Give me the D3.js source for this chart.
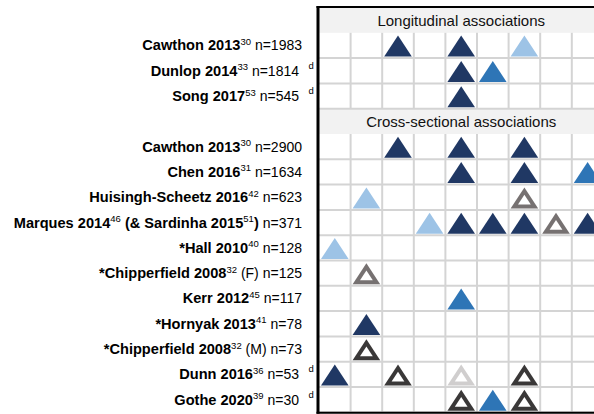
<!DOCTYPE html>
<html><head><meta charset="utf-8">
<script src="https://cdn.jsdelivr.net/npm/d3@7"></script>
<style>
body{margin:0;background:#fff;}
svg{display:block;font-family:"Liberation Sans",Arial,sans-serif;}
</style>
</head><body>
<svg id="chart" width="594" height="414"></svg>
<script>
// ---- data ----
const columns = ["c1","c2","c3","c4","c5","c6","c7","c8","c9"];
const sections = ["Longitudinal associations", "Cross-sectional associations"];

// label segments: b = bold, r = regular, s = superscript
const labelsLong = [
  [["Cawthon 2013","b"],["30","s"],[" n=1983","r"]],
  [["Dunlop 2014","b"],["33","s"],[" n=1814","r"]],
  [["Song 2017","b"],["53","s"],[" n=545","r"]]
];
const dFlagLong = [false, true, true];
// marks per column: D dark, M medium blue, L light blue, G grey hollow, K dark hollow, W light-grey hollow
const marksLong = ["..D.D.L..", "....DM...", "....D...."];

const labelsCross = [
  [["Cawthon 2013","b"],["30","s"],[" n=2900","r"]],
  [["Chen 2016","b"],["31","s"],[" n=1634","r"]],
  [["Huisingh-Scheetz 2016","b"],["42","s"],[" n=623","r"]],
  [["Marques 2014","b"],["46","s"],[" (& Sardinha 2015","b"],["51","s"],[")","b"],[" n=371","r"]],
  [["*Hall 2010","b"],["40","s"],[" n=128","r"]],
  [["*Chipperfield 2008","b"],["32","s"],[" (F) n=125","r"]],
  [["Kerr 2012","b"],["45","s"],[" n=117","r"]],
  [["*Hornyak 2013","b"],["41","s"],[" n=78","r"]],
  [["*Chipperfield 2008","b"],["32","s"],[" (M) n=73","r"]],
  [["Dunn 2016","b"],["36","s"],[" n=53","r"]],
  [["Gothe 2020","b"],["39","s"],[" n=30","r"]]
];
const dFlagCross = [false,false,false,false,false,false,false,false,false,true,true];
const marksCross = [
  "..D.D.D..",
  "....D.D.M",
  ".L....G..",
  "...LDDDGD",
  "L........",
  ".G.......",
  "....M....",
  ".D.......",
  ".K.......",
  "D.K.W.K..",
  "....KMK.."
];

const markColors = {D:"#203864", M:"#2e75b6", L:"#9dc3e6", G:"#767171", K:"#3a3838", W:"#d0cece"};
const hollowTypes = "GKW";

// ---- build rows ----
const rows = [];
rows.push({id:"h0", header:sections[0]});
labelsLong.forEach((l,i)=>rows.push({id:"L"+i, label:l, d:dFlagLong[i], marks:marksLong[i]}));
rows.push({id:"h1", header:sections[1]});
labelsCross.forEach((l,i)=>rows.push({id:"C"+i, label:l, d:dFlagCross[i], marks:marksCross[i]}));

const svg = d3.select("#chart");
const gridLeft = 319, gridRight = 603.4, gridTop = 7.5, gridBottom = 412.3;

const x = d3.scaleBand().domain(columns).range([gridLeft, gridRight]).padding(0);
const y = d3.scaleBand().domain(rows.map(r=>r.id)).range([gridTop, gridBottom]).padding(0);
const bw = x.bandwidth(), bh = y.bandwidth();

// header backgrounds
rows.filter(r=>r.header).forEach(r=>{
  svg.append("rect").attr("x",gridLeft).attr("y",y(r.id)).attr("width",gridRight-gridLeft).attr("height",bh).attr("fill","#f2f2f2");
  svg.append("text").attr("x",(gridLeft+gridRight)/2).attr("y",y(r.id)+bh/2+5.5)
    .attr("text-anchor","middle").attr("font-size",15).attr("fill","#111").text(r.header);
});

// grid lines
const gl = svg.append("g").attr("stroke","#d4d4d4").attr("stroke-width",2);
rows.forEach(r=>{
  if (r.header) return;
  columns.slice(1).forEach(c=>{
    gl.append("line").attr("x1",x(c)).attr("x2",x(c)).attr("y1",y(r.id)).attr("y2",y(r.id)+bh);
  });
  gl.append("line").attr("x1",gridLeft).attr("x2",gridRight).attr("y1",y(r.id)+bh).attr("y2",y(r.id)+bh);
});

// marks
const triW = 27.6, triH = 21;
rows.forEach(r=>{
  if (r.header) return;
  r.marks.split("").forEach((t,ci)=>{
    if (t===".") return;
    const cx = x(columns[ci]) + bw/2;
    const bottom = y(r.id) + bh - 1.5;
    const pts = [[cx-triW/2,bottom],[cx+triW/2,bottom],[cx,bottom-triH]];
    svg.append("polygon").attr("points",pts.map(p=>p.join(",")).join(" ")).attr("fill",markColors[t]);
    if (hollowTypes.includes(t)) {
      const side = Math.hypot(triW/2,triH);
      const rIn = (triW*triH)/(triW+2*side);
      const icy = bottom - rIn;
      const k = (rIn-4)/rIn;
      const inner = pts.map(p=>[cx+(p[0]-cx)*k, icy+(p[1]-icy)*k]);
      svg.append("polygon").attr("points",inner.map(p=>p.join(",")).join(" ")).attr("fill","#fff");
    }
  });
});

// borders
svg.append("line").attr("x1",gridLeft-1).attr("x2",gridLeft-1).attr("y1",gridTop-1.5).attr("y2",gridBottom+1.5).attr("stroke","#000").attr("stroke-width",3);
svg.append("line").attr("x1",gridLeft-2.5).attr("x2",gridRight).attr("y1",gridTop-0.5).attr("y2",gridTop-0.5).attr("stroke","#000").attr("stroke-width",2);
svg.append("line").attr("x1",gridLeft-2.5).attr("x2",gridRight).attr("y1",gridBottom+0.5).attr("y2",gridBottom+0.5).attr("stroke","#000").attr("stroke-width",2);

// labels
const labelRight = 302;
rows.forEach(r=>{
  if (r.header) return;
  const cy = y(r.id) + bh/2;
  const t = svg.append("text").attr("x", r.d ? labelRight-3 : labelRight).attr("y", cy+5)
    .attr("text-anchor","end").attr("font-size",14).attr("fill","#000");
  let raised = false;
  r.label.forEach(([txt,st])=>{
    const ts = t.append("tspan").text(txt);
    if (st==="s") { ts.attr("font-size",9.5).attr("dy",-5.5).attr("font-weight","normal"); raised = true; }
    else {
      if (raised) { ts.attr("dy",5.5); raised = false; }
      ts.attr("font-weight", st==="b" ? "bold" : "normal").attr("font-size", st==="b" ? 14.6 : 14);
    }
  });
  if (r.d) {
    svg.append("text").attr("x",308.5).attr("y",cy-2).attr("font-size",9.5).attr("fill","#000").text("d");
  }
});
</script>
</body></html>
